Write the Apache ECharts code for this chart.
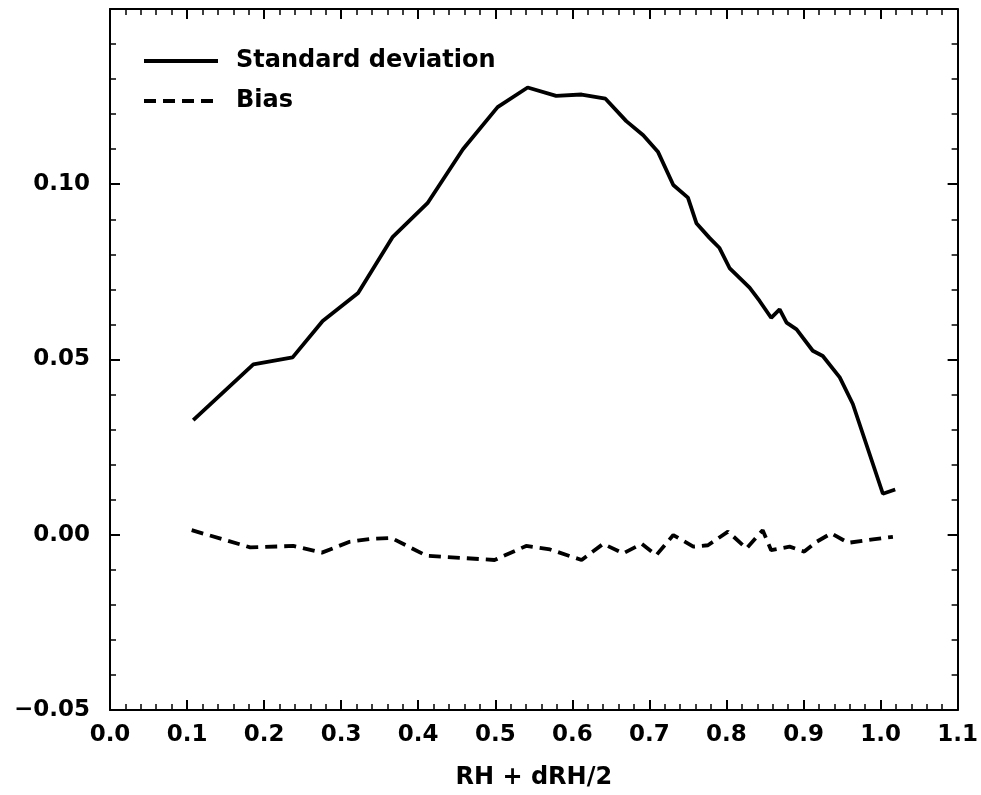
<!DOCTYPE html>
<html>
<head>
<meta charset="utf-8">
<script src="https://cdn.jsdelivr.net/npm/echarts@6/dist/echarts.min.js"></script>
<style>
  html, body { margin: 0; padding: 0; background: #fff; }
  #grafico { width: 981px; height: 795px; }
</style>
</head>
<body>
<div id="grafico"></div>
<script>
// Datos
const sdX = [0.108, 0.186, 0.237, 0.276, 0.322, 0.367, 0.412, 0.458, 0.503, 0.542,
             0.579, 0.612, 0.643, 0.670, 0.692, 0.711, 0.731, 0.750, 0.761, 0.778,
             0.791, 0.804, 0.830, 0.843, 0.858, 0.869, 0.878, 0.891, 0.912, 0.925,
             0.947, 0.964, 1.003, 1.019];
const sdY = [0.0327, 0.0486, 0.0506, 0.0610, 0.0690, 0.0850, 0.0946, 0.1100, 0.1220, 0.1276,
             0.1252, 0.1256, 0.1244, 0.1180, 0.1140, 0.1093, 0.0998, 0.0962, 0.0889, 0.0847,
             0.0818, 0.0761, 0.0705, 0.0667, 0.0619, 0.0643, 0.0605, 0.0586, 0.0525, 0.0510,
             0.0449, 0.0373, 0.0117, 0.0129];

const biasX = [0.106, 0.182, 0.238, 0.275, 0.311, 0.337, 0.365, 0.411, 0.463, 0.499,
               0.540, 0.571, 0.612, 0.640, 0.666, 0.690, 0.709, 0.731, 0.757, 0.776,
               0.802, 0.826, 0.847, 0.858, 0.882, 0.901, 0.917, 0.936, 0.958, 0.990, 1.016];
const biasY = [0.0013, -0.0036, -0.0032, -0.0051, -0.0020, -0.0012, -0.0009, -0.0060, -0.0067, -0.0072,
               -0.0032, -0.0042, -0.0072, -0.0026, -0.0053, -0.0026, -0.0058, -0.0001, -0.0034, -0.0030,
               0.0009, -0.0039, 0.0013, -0.0044, -0.0034, -0.0048, -0.0020, 0.0004, -0.0023, -0.0013, -0.0006];

const seriesNames = ['Standard deviation', 'Bias'];
const xTitle = 'RH + dRH/2';

const fuente = '"DejaVu Sans", sans-serif';
const negro = '#000';

// Ejes con marcas hacia dentro (sin etiquetas en los lados de arriba y derecha)
function ejeBase(extra) {
    return Object.assign({
        type: 'value',
        splitLine: { show: false },
        axisLine: { show: true, onZero: false, lineStyle: { color: negro, width: 2 } },
        axisTick: { show: true, inside: true, length: 10, lineStyle: { color: negro, width: 2 } },
        minorTick: { show: true, splitNumber: 5, length: 6, lineStyle: { color: negro, width: 1.5 } },
        minorSplitLine: { show: false }
    }, extra);
}

const grafico = echarts.init(document.getElementById('grafico'));
grafico.setOption({
    animation: false,
    backgroundColor: '#fff',
    grid: { left: 110, right: 23, top: 9, bottom: 81 },
    legend: {
        orient: 'vertical',
        left: 137,
        top: 44,
        itemWidth: 74,
        itemHeight: 14,
        itemGap: 16,
        data: seriesNames,
        itemStyle: { opacity: 0 },
        lineStyle: { width: 4 },
        textStyle: { fontFamily: fuente, fontWeight: 'bold', fontSize: 24, color: negro, padding: [0, 0, 0, 13] }
    },
    xAxis: [
        ejeBase({
            min: 0, max: 1.1, interval: 0.1,
            name: xTitle,
            nameLocation: 'middle',
            nameGap: 56,
            nameTextStyle: { fontFamily: fuente, fontWeight: 'bold', fontSize: 24, color: negro },
            axisLabel: {
                fontFamily: fuente, fontWeight: 'bold', fontSize: 23, color: negro, margin: 14,
                formatter: v => v.toFixed(1)
            }
        }),
        ejeBase({
            position: 'top', min: 0, max: 1.1, interval: 0.1,
            axisLabel: { show: false }
        })
    ],
    yAxis: [
        ejeBase({
            min: -0.05, max: 0.15, interval: 0.05,
            axisLabel: {
                fontFamily: fuente, fontWeight: 'bold', fontSize: 23, color: negro, margin: 20,
                formatter: v => {
                    if (v > 0.14) return '';
                    const t = Math.abs(v).toFixed(2);
                    return v < -1e-9 ? '\u2212' + t : t;
                }
            }
        }),
        ejeBase({
            position: 'right', min: -0.05, max: 0.15, interval: 0.05,
            axisLabel: { show: false }
        })
    ],
    series: [
        {
            name: seriesNames[0],
            type: 'line',
            symbol: 'none',
            data: sdX.map((x, i) => [x, sdY[i]]),
            lineStyle: { color: negro, width: 3.8 },
            itemStyle: { color: negro }
        },
        {
            name: seriesNames[1],
            type: 'line',
            symbol: 'none',
            data: biasX.map((x, i) => [x, biasY[i]]),
            lineStyle: { color: negro, width: 3.8, type: [12, 7] },
            itemStyle: { color: negro }
        }
    ]
});
</script>
</body>
</html>
